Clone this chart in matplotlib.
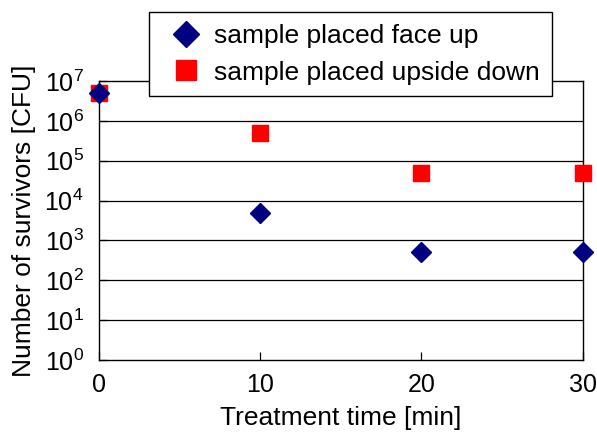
import matplotlib
matplotlib.use("Agg")
import matplotlib.pyplot as plt
from matplotlib.ticker import FixedLocator

# data
time_min = [0, 10, 20, 30]
face_up = [5e6, 5e3, 5e2, 5e2]
upside_down = [5e6, 5e5, 5e4, 5e4]
y_ticks = [1e0, 1e1, 1e2, 1e3, 1e4, 1e5, 1e6, 1e7]
y_tick_labels = [r"$\mathregular{10^{%d}}$" % i for i in range(8)]
x_ticks = [0, 10, 20, 30]

plt.rcParams["font.family"] = ["Liberation Sans", "DejaVu Sans"]
plt.rcParams["mathtext.fontset"] = "custom"
plt.rcParams["mathtext.rm"] = "Liberation Sans"
plt.rcParams["mathtext.it"] = "Liberation Sans:italic"
plt.rcParams["mathtext.bf"] = "Liberation Sans:bold"

fig = plt.figure(figsize=(5.97, 4.32), dpi=100)
ax = fig.add_axes([99 / 597, 1 - 360 / 432, (582.5 - 99) / 597, (360 - 81) / 432])

ax.set_yscale("log")
ax.set_xlim(0, 30)
ax.set_ylim(1e0, 1e7)

# gridlines on each decade
for y in y_ticks[1:-1]:
    ax.axhline(y, color="black", lw=0.9, zorder=1)

ax.plot(time_min, face_up, linestyle="none", marker="D", markersize=10.5,
        color="#000080", label="sample placed face up", clip_on=False, zorder=4)
ax.plot(time_min, upside_down, linestyle="none", marker="s", markersize=11.5,
        color="#ff0000", label="sample placed upside down", clip_on=False, zorder=3)

ax.yaxis.set_major_locator(FixedLocator(y_ticks))
ax.yaxis.set_minor_locator(FixedLocator([]))
ax.set_yticklabels(y_tick_labels)
ax.set_xticks(x_ticks)
ax.tick_params(axis="both", direction="in", length=6, width=0.9, labelsize=18)
ax.tick_params(axis="y", pad=11)
ax.tick_params(axis="x", pad=9)

for s in ax.spines.values():
    s.set_linewidth(1.0)
    s.set_color("black")

ax.set_xlabel("Treatment time [min]", fontsize=19, labelpad=6.5)
ax.set_ylabel("Number of survivors [CFU]", fontsize=19, labelpad=6)

# legend box sits over the top edge of the plot
h, l = ax.get_legend_handles_labels()
leg = fig.legend(h, l, loc="upper left",
                 bbox_to_anchor=(149 / 597, 1 - 96 / 432, (552 - 149) / 597, (96 - 12) / 432),
                 mode="expand", fontsize=19, frameon=True, fancybox=False,
                 framealpha=1, edgecolor="black", borderaxespad=0,
                 borderpad=0.45, handlelength=1.9, handletextpad=0.1,
                 labelspacing=0.48, markerscale=1.25)
leg.get_frame().set_linewidth(1.0)

fig.savefig("out.png", dpi=100)
